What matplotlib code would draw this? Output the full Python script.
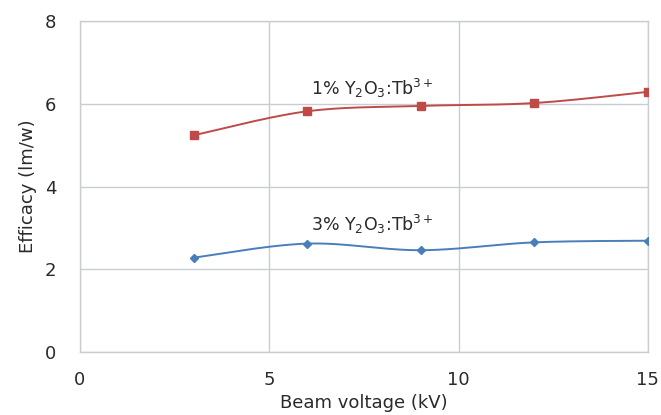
import numpy as np
import matplotlib
matplotlib.use("Agg")
import matplotlib.pyplot as plt

# Efficacy vs. beam voltage for two Tb-doped Y2O3 phosphors
voltage = [3, 6, 9, 12, 15]
eff_1pct = [5.24, 5.82, 5.95, 6.02, 6.29]
eff_3pct = [2.28, 2.62, 2.46, 2.65, 2.69]
label_1pct = "1% Y$_2$O$_3$:Tb$^{3+}$"
label_3pct = "3% Y$_2$O$_3$:Tb$^{3+}$"
x_ticks = [0, 5, 10, 15]
y_ticks = [0, 2, 4, 6, 8]


def smooth(xs, ys, n=40, tension=1 / 6):
    """Smoothed line through the points using cubic Bezier segments."""
    xs = np.asarray(xs, float)
    ys = np.asarray(ys, float)
    px = np.concatenate([[xs[0]], xs, [xs[-1]]])
    py = np.concatenate([[ys[0]], ys, [ys[-1]]])
    out_x, out_y = [], []
    t = np.linspace(0, 1, n)
    for i in range(1, len(px) - 2):
        p0 = np.array([px[i], py[i]])
        p3 = np.array([px[i + 1], py[i + 1]])
        p1 = p0 + tension * (np.array([px[i + 1], py[i + 1]]) - np.array([px[i - 1], py[i - 1]]))
        p2 = p3 - tension * (np.array([px[i + 2], py[i + 2]]) - np.array([px[i], py[i]]))
        b = ((1 - t) ** 3)[:, None] * p0 + (3 * (1 - t) ** 2 * t)[:, None] * p1 \
            + (3 * (1 - t) * t ** 2)[:, None] * p2 + (t ** 3)[:, None] * p3
        out_x.extend(b[:, 0])
        out_y.extend(b[:, 1])
    return out_x, out_y


red = "#BE4B48"
blue = "#4A7EBB"
grid_c = "#C9CDD2"
text_c = "#2A2A2A"

fig = plt.figure(figsize=(6.61, 4.15), dpi=100)
ax = fig.add_axes([0.121, 0.152, 0.859, 0.797])

sx, sy = smooth(voltage, eff_1pct)
ax.plot(sx, sy, color=red, lw=1.4, zorder=3)
ax.plot(voltage, eff_1pct, ls="none", marker="s", ms=6, color=red, zorder=4)

sx, sy = smooth(voltage, eff_3pct)
ax.plot(sx, sy, color=blue, lw=1.4, zorder=3)
ax.plot(voltage, eff_3pct, ls="none", marker="D", ms=4.2, color=blue, zorder=4)

ax.text(6.1, 6.38, label_1pct, fontsize=12.5, color=text_c, va="center", ha="left")
ax.text(6.1, 3.08, label_3pct, fontsize=12.5, color=text_c, va="center", ha="left")

ax.set_xlim(0, 15)
ax.set_ylim(0, 8)
ax.set_xticks(x_ticks)
ax.set_yticks(y_ticks)
ax.grid(True, color=grid_c, lw=1.0)
ax.set_axisbelow(True)
for s in ax.spines.values():
    s.set_color(grid_c)
    s.set_linewidth(1.0)
ax.tick_params(axis="x", length=0, labelsize=13, colors=text_c, pad=14)
ax.tick_params(axis="y", length=0, labelsize=13, colors=text_c, pad=17)
ax.set_xlabel("Beam voltage (kV)", fontsize=13, color=text_c, labelpad=3)
ax.set_ylabel("Efficacy (lm/w)", fontsize=13, color=text_c, labelpad=6)

fig.savefig("out.png", dpi=100)
